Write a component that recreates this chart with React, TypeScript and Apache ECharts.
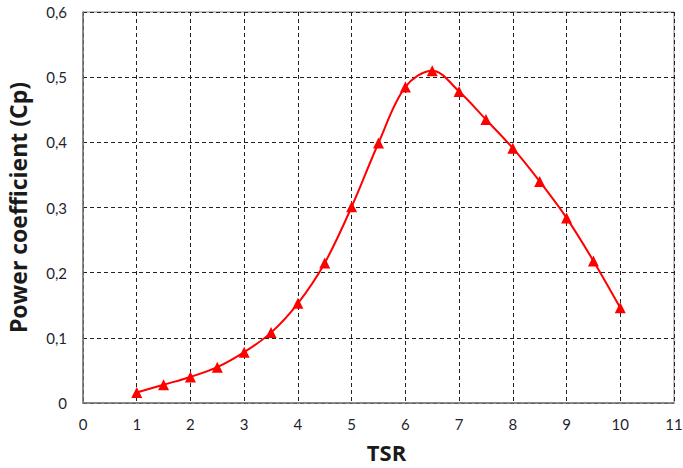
import React, { useEffect, useRef } from "react";
import * as echarts from "echarts";

const tsr = [1, 1.5, 2, 2.5, 3, 3.5, 4, 4.5, 5, 5.5, 6, 6.5, 7, 7.5, 8, 8.5, 9, 9.5, 10];
const cp = [0.016, 0.028, 0.040, 0.055, 0.078, 0.108, 0.153, 0.215, 0.301, 0.399, 0.485, 0.510, 0.478, 0.435, 0.391, 0.340, 0.284, 0.218, 0.146];
const xTitle = "TSR";
const yTitle = "Power coefficient (Cp)";

export default function App() {
  const ref = useRef<HTMLDivElement>(null);
  useEffect(() => {
    const chart = echarts.init(ref.current!, null, { renderer: "svg" });
    const font = "Lato, 'Open Sans', sans-serif";
    const titleFont = "'Open Sans', Lato, sans-serif";
    chart.setOption({
      animation: false,
      backgroundColor: "#fff",
      grid: {
        left: 83, top: 12, right: 9, bottom: 65,
        show: true, borderColor: "#888", borderWidth: 1,
        outerBoundsMode: "none", containLabel: false,
      },
      xAxis: {
        type: "value",
        min: 0,
        max: 11,
        interval: 1,
        name: xTitle,
        nameLocation: "middle",
        nameGap: 38,
        nameTextStyle: { fontFamily: titleFont, fontSize: 22, fontWeight: "bold", color: "#1a1a1a", padding: [0, 0, 0, 16] },
        axisLine: { show: true, lineStyle: { color: "#777", width: 1.5 } },
        axisTick: { show: false },
        axisLabel: { fontFamily: font, fontSize: 15, color: "#1f1f2f", margin: 13 },
        splitLine: { show: true, lineStyle: { color: "#222", type: [4, 3], width: 1 } },
      },
      yAxis: {
        type: "value",
        min: 0,
        max: 0.6,
        interval: 0.1,
        name: yTitle,
        nameLocation: "middle",
        nameGap: 54,
        nameTextStyle: { fontFamily: titleFont, fontSize: 23, fontWeight: "bold", color: "#1a1a1a" },
        axisLine: { show: true, lineStyle: { color: "#777", width: 1.5 } },
        axisTick: { show: false },
        axisLabel: {
          fontFamily: font,
          fontSize: 15,
          color: "#1f1f2f",
          margin: 16,
          formatter: (v: number) => (v === 0 ? "0" : v.toFixed(1).replace(".", ",")),
        },
        splitLine: { show: true, lineStyle: { color: "#222", type: [4, 3], width: 1 } },
      },
      series: [
        {
          type: "line",
          data: tsr.map((x, i) => [x, cp[i]]),
          smooth: 0.35,
          symbol: "triangle",
          symbolSize: 11,
          lineStyle: { color: "#ff0000", width: 2 },
          itemStyle: { color: "#ff0000" },
        },
      ],
    });
    return () => chart.dispose();
  }, []);
  return <div ref={ref} style={{ position: "fixed", left: 0, top: 0, width: 683, height: 468 }} />;
}
